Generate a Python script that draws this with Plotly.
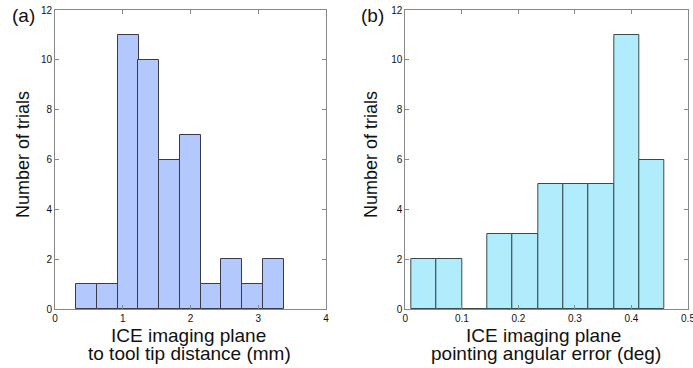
import plotly.graph_objects as go

# Panel (a): distance histogram
dist_centers = [0.46, 0.77, 1.08, 1.38, 1.69, 2.00, 2.31, 2.61, 2.92, 3.23]
dist_counts = [1, 1, 11, 10, 6, 7, 1, 2, 1, 2]
dist_width = 0.3075

# Panel (b): angular error histogram
ang_centers = [0.0330, 0.0778, 0.1226, 0.1674, 0.2122, 0.2570, 0.3018, 0.3466, 0.3914, 0.4362]
ang_counts = [2, 2, 0, 3, 3, 5, 5, 5, 11, 6]
ang_width = 0.0448

y_ticks = [0, 2, 4, 6, 8, 10, 12]
xa_ticks = [0, 1, 2, 3, 4]
xb_ticks = [0, 0.1, 0.2, 0.3, 0.4, 0.5]

W, H = 693, 368
TOP, BOT = 10, 309
PH = BOT - TOP


def px(x):
    return x / W


def py(y):
    return (BOT - y) / PH


FONT = "Arial, Liberation Sans, sans-serif"

fig = go.Figure()
fig.add_trace(go.Bar(x=dist_centers, y=dist_counts, width=dist_width,
                     marker=dict(color="#b3c8fc", line=dict(color="#3a3a4a", width=1)),
                     xaxis="x", yaxis="y", showlegend=False))
fig.add_trace(go.Bar(x=ang_centers, y=ang_counts, width=ang_width,
                     marker=dict(color="#b0ecfc", line=dict(color="#3a4a4a", width=1)),
                     xaxis="x2", yaxis="y2", showlegend=False))

tickfont = dict(family=FONT, size=10, color="#111")
axcommon = dict(showgrid=False, zeroline=False, showline=True, linecolor="#888",
                linewidth=1, mirror="ticks", ticks="inside", ticklen=4,
                tickcolor="#888", tickfont=tickfont, automargin=False,
                ticklabeloverflow="allow")

fig.update_layout(
    width=W, height=H, plot_bgcolor="white", paper_bgcolor="white",
    margin=dict(l=0, r=0, t=TOP, b=H - BOT, autoexpand=False), bargap=0,
    xaxis=dict(domain=[px(55), px(326)], range=[0, 4], tickvals=xa_ticks, **axcommon),
    yaxis=dict(domain=[0, 1], range=[0, 12], tickvals=y_ticks, anchor="x", **axcommon),
    xaxis2=dict(domain=[px(405.3), px(688)], range=[0, 0.5], tickvals=xb_ticks,
                anchor="y2", **axcommon),
    yaxis2=dict(domain=[0, 1], range=[0, 12], tickvals=y_ticks, anchor="x2", **axcommon),
)


def label(text, x, y, size, angle=0):
    fig.add_annotation(text=text, x=px(x), y=py(y), xref="paper", yref="paper",
                       xanchor="center", yanchor="middle", showarrow=False,
                       textangle=angle, font=dict(family=FONT, size=size, color="#111"))


label("(a)", 23.5, 15.5, 19)
label("(b)", 372, 15.5, 19)
label("Number of trials", 23, 155, 18, -90)
label("Number of trials", 371, 155, 18, -90)
label("ICE imaging plane", 188.5, 335.4, 19)
label("to tool tip distance (mm)", 189, 353.4, 19)
label("ICE imaging plane", 543, 335.4, 19)
label("pointing angular error (deg)", 545.5, 353.4, 19)

fig.write_html("out.html", config={"displayModeBar": False},
               post_script="document.body.style.margin='0';")
